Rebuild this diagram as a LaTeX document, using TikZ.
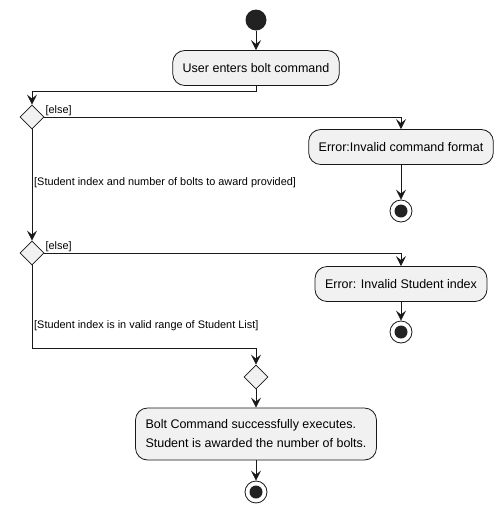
\documentclass[tikz,border=0pt]{standalone}
\usepackage{fontspec}
\setmainfont{Liberation Sans}
\usetikzlibrary{arrows.meta,shapes.geometric,calc}
\definecolor{umlfill}{HTML}{F1F1F1}
\definecolor{umlline}{HTML}{181818}
\definecolor{umldot}{HTML}{222222}

\tikzset{
  act/.style={draw=umlline,fill=umlfill,rounded corners=12pt,line width=0.8pt,
    minimum height=35pt,inner xsep=10pt,font=\fontsize{12.5}{19}\selectfont},
  choice/.style={diamond,draw=umlline,fill=umlfill,line width=0.8pt,
    minimum width=24pt,minimum height=24pt,inner sep=0pt},
  startdot/.style={circle,fill=umldot,minimum size=21pt,inner sep=0pt},
  enddot/.style={circle,draw=umlline,fill=white,line width=0.8pt,minimum size=22pt,inner sep=0pt,
    path picture={\fill[umldot] (path picture bounding box.center) circle (6.5pt);}},
  flow/.style={draw=umlline,line width=0.8pt,-{Stealth[length=10pt,width=10pt,inset=4pt]}},
  guard/.style={font=\fontsize{10.9}{12}\selectfont,inner sep=1pt}
}

\begin{document}
\begin{tikzpicture}[x=1pt,y=-1pt]
  \useasboundingbox (0,0) rectangle (502,512);
  % nodes
  \node[startdot] (start) at (256,20) {};
  \node[act] (enter) at (256,68) {User enters bolt command};
  \node[choice] (chkargs) at (32,117) {};
  \node[act] (errfmt) at (401,147) {Error:Invalid command format};
  \node[enddot] (endfmt) at (401,211) {};
  \node[choice] (chkidx) at (32,253) {};
  \node[act] (erridx) at (401,284) {Error: Invalid Student index};
  \node[enddot] (endidx) at (401,332) {};
  \node[choice] (merge) at (256,377) {};
  \node[act,align=left,minimum height=52pt] (award) at (256,434)
    {Bolt Command successfully executes.\\Student is awarded the number of bolts.};
  \node[enddot] (endok) at (256,492) {};
  % connectors
  \draw[flow] (start) -- (enter);
  \draw[flow] (enter.south) -- ++(0,5) -| (chkargs.north);
  \draw[flow] (chkargs.east) -| (errfmt.north);
  \node[guard,anchor=south west] at (chkargs.east) {[else]};
  \draw[flow] (errfmt) -- (endfmt);
  \draw[flow] (chkargs.south) -- (chkidx.north);
  \node[guard,anchor=west] at (33,183) {[Student index and number of bolts to award provided]};
  \draw[flow] (chkidx.east) -| (erridx.north);
  \node[guard,anchor=south west] at (chkidx.east) {[else]};
  \draw[flow] (erridx) -- (endidx);
  \draw[flow] (chkidx.south) |- ($(merge.north)+(0,-16)$) -- (merge.north);
  \node[guard,anchor=west] at (33,326) {[Student index is in valid range of Student List]};
  \draw[flow] (merge) -- (award);
  \draw[flow] (award) -- (endok);
\end{tikzpicture}
\end{document}
